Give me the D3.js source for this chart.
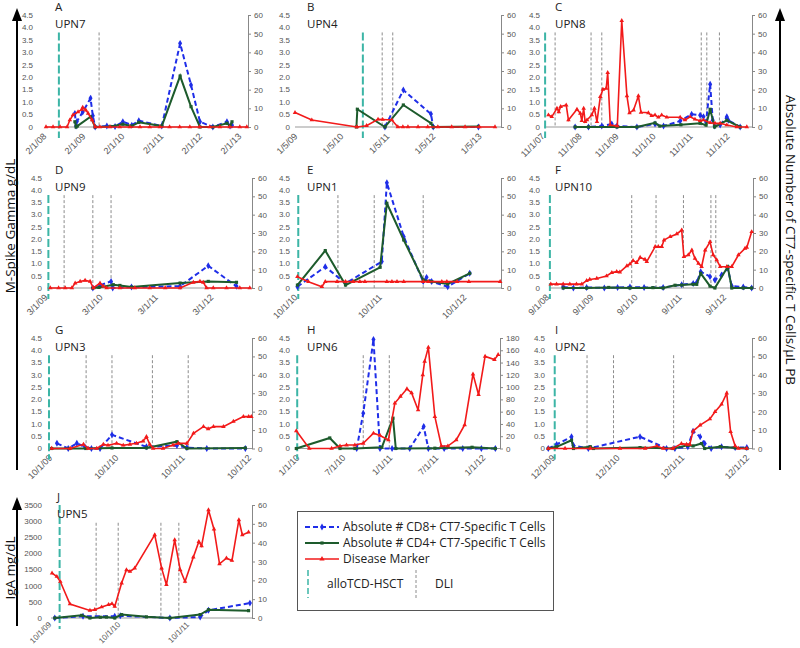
<!DOCTYPE html>
<html>
<head>
<meta charset="utf-8">
<script src="https://cdn.jsdelivr.net/npm/d3@7"></script>
<style>
  body { margin: 0; background: #fff; }
  svg { display: block; }
</style>
</head>
<body>
<svg id="chart" width="800" height="648"></svg>
<script>
// x values are decimal years, red = disease marker (left axis),
// cd8 / cd4 = absolute # CT7-specific T cells (right axis)

const A_ticks = ["2/1/08", "2/1/09", "2/1/10", "2/1/11", "2/1/12", "2/1/13"];
const A_red = [[2008.06,0],[2008.24,0],[2008.42,0],[2008.6,0],[2008.67,0.28],[2008.75,0.48],[2008.88,0.61],[2008.98,0.71],[2009.0,0.79],[2009.08,0.68],[2009.14,0.55],[2009.24,0.28],[2009.32,0],[2009.44,0],[2009.7,0],[2009.95,0],[2010.21,0],[2010.47,0],[2010.72,0],[2010.98,0],[2011.23,0],[2011.49,0],[2011.75,0],[2012.0,0],[2012.26,0],[2012.52,0],[2012.77,0],[2013.03,0],[2013.21,0]];
const A_cd8 = [[2008.8,7.3],[2008.83,0.5],[2008.85,3],[2009.0,8],[2009.2,15.4],[2009.26,6],[2009.32,0],[2009.62,0.5],[2009.83,0.3],[2010.03,2.8],[2010.26,1],[2010.44,3.4],[2011.03,0.5],[2011.5,44.8],[2011.78,22.5],[2012.01,2.8],[2012.34,0],[2012.7,2.8],[2012.78,0.5],[2012.83,1]];
const A_cd4 = [[2008.8,2.8],[2008.83,0],[2008.86,0.5],[2009.2,5.5],[2009.32,0],[2009.7,0.3],[2010.03,1.5],[2010.26,0.5],[2010.44,2.5],[2011.03,0.5],[2011.5,27.3],[2011.78,10.9],[2012.01,0],[2012.34,0],[2012.7,2],[2012.78,0.5],[2012.83,2.8]];
const A_hsct = [2008.39];
const A_dli = [2009.42];

const B_ticks = ["1/5/09", "1/5/10", "1/5/11", "1/5/12", "1/5/13"];
const B_red = [[2008.945,0.58],[2009.31,0.28],[2010.29,0],[2010.5,0.05],[2010.75,0.31],[2010.85,0.3],[2011.05,0.28],[2011.18,0],[2011.29,0],[2011.4,0],[2011.62,0],[2011.83,0],[2012.05,0],[2012.35,0],[2012.64,0],[2012.95,0],[2013.29,0]];
const B_cd8 = [[2010.9,0],[2011.3,19.8],[2011.9,7],[2011.95,0],[2012.93,0]];
const B_cd4 = [[2010.28,0],[2010.3,9.5],[2010.9,0],[2011.3,11.8],[2011.9,2],[2011.95,0],[2012.93,0.3]];
const B_hsct = [2010.42];
const B_dli = [2010.84, 2011.07];

const C_ticks = ["11/1/07", "11/1/08", "11/1/09", "11/1/10", "11/1/11", "11/1/12"];
const C_red = [[2007.92,0.48],[2008.01,0.41],[2008.15,0.75],[2008.2,0.61],[2008.25,0.82],[2008.4,0.88],[2008.46,0.28],[2008.69,0.71],[2008.78,0.55],[2008.82,0.25],[2008.87,0.75],[2008.91,0.21],[2008.96,0.28],[2009.09,0.48],[2009.16,0.75],[2009.23,0.21],[2009.32,1.22],[2009.39,1.51],[2009.48,1.55],[2009.52,2.18],[2009.59,0.08],[2009.78,0.04],[2009.9,4.27],[2010.04,1.25],[2010.11,0.57],[2010.22,0.68],[2010.35,1.25],[2010.42,0.59],[2010.62,0.57],[2010.71,0.45],[2010.8,0.48],[2010.89,0.39],[2010.98,0.48],[2011.12,0.39],[2011.48,0.39],[2011.61,0.28],[2011.75,0.41],[2011.88,0.31],[2012.02,0.25],[2012.11,0.28],[2012.29,0.17],[2012.42,0.15],[2012.56,0.15],[2012.74,0.08],[2013.01,0],[2013.28,0]];
const C_cd8 = [[2008.64,0],[2009.0,0],[2009.36,0.5],[2009.63,1.6],[2009.77,0.5],[2010.31,0],[2010.8,1.6],[2011.03,0.5],[2011.48,3.2],[2011.79,6.8],[2012.02,6.3],[2012.11,5.5],[2012.18,2.7],[2012.29,22.9],[2012.36,3.6],[2012.41,0.5],[2012.56,1.1],[2012.74,5.5],[2012.78,3.6],[2013.1,0]];
const C_cd4 = [[2008.64,0],[2009.0,0],[2009.77,0],[2010.31,0],[2010.8,2.2],[2010.93,0.5],[2011.5,1.2],[2012.02,2],[2012.18,1],[2012.29,9.5],[2012.41,0],[2012.74,3.6],[2013.1,0]];
const C_hsct = [2007.83];
const C_dli = [2008.1, 2009.07, 2009.36, 2012.05, 2012.2, 2012.54];

const D_ticks = ["3/1/09", "3/1/10", "3/1/11", "3/1/12"];
const D_red = [[2009.2,0],[2009.35,0],[2009.47,0],[2009.59,0],[2009.65,0.2],[2009.74,0.27],[2009.83,0.31],[2009.92,0.27],[2009.98,0],[2010.1,0.2],[2010.16,0.07],[2010.22,0],[2010.46,0],[2010.73,0],[2011.0,0],[2011.28,0],[2011.55,0],[2011.79,0.23],[2011.91,0.27],[2011.97,0.23],[2012.03,0],[2012.15,0],[2012.39,0],[2012.63,0],[2012.81,0]];
const D_cd8 = [[2009.97,0],[2010.1,1.5],[2010.3,3.6],[2010.33,0],[2010.67,0.5],[2011.55,1],[2012.06,12.1],[2012.57,0.9]];
const D_cd4 = [[2009.97,0],[2010.08,0.3],[2010.34,1.8],[2010.46,1.4],[2010.67,0.5],[2011.55,2.7],[2012.06,3.6],[2012.57,3.1]];
const D_hsct = [2009.165];
const D_dli = [2009.45, 2009.97, 2010.3];

const E_ticks = ["10/1/10", "10/1/11", "10/1/12"];
const E_red = [[2010.74,0.46],[2010.87,0.26],[2011.03,0.05],[2011.07,0.26],[2011.21,0.26],[2011.31,0.26],[2011.4,0.26],[2011.48,0.26],[2011.54,0.26],[2011.8,0.26],[2011.86,0.26],[2011.92,0.26],[2012.0,0.26],[2012.23,0.26],[2012.29,0.26],[2012.45,0.26],[2012.51,0.26],[2012.63,0.26],[2012.77,0.26],[2013.14,0.26]];
const E_cd8 = [[2010.74,0.7],[2011.07,11.6],[2011.31,2.5],[2011.74,14.4],[2011.8,57.4],[2012.0,28],[2012.23,3.5],[2012.27,5.8],[2012.33,3.5],[2012.52,0.7],[2012.78,8]];
const E_cd4 = [[2010.74,1.6],[2011.07,20.4],[2011.31,1.6],[2011.72,11.3],[2011.8,46.2],[2012.0,26.2],[2012.23,4.4],[2012.33,3.5],[2012.52,2.2],[2012.78,8]];
const E_hsct = [2010.75];
const E_dli = [2011.22, 2011.65, 2012.23];

const F_ticks = ["9/1/08", "9/1/09", "9/1/10", "9/1/11", "9/1/12"];
const F_red = [[2008.69,0.16],[2008.82,0.16],[2008.97,0.16],[2009.12,0.16],[2009.27,0.16],[2009.39,0.16],[2009.5,0.3],[2009.57,0.35],[2009.73,0.39],[2009.95,0.49],[2010.07,0.63],[2010.18,0.67],[2010.25,0.65],[2010.41,0.9],[2010.48,0.98],[2010.55,1.12],[2010.63,1.04],[2010.71,1.25],[2010.82,1.17],[2010.86,1.08],[2011.05,1.69],[2011.12,1.69],[2011.2,1.69],[2011.25,1.96],[2011.39,2.1],[2011.54,2.21],[2011.65,2.37],[2011.7,1.28],[2011.8,1.35],[2011.88,1.55],[2011.95,1.21],[2012.03,1.01],[2012.1,0.87],[2012.18,1.55],[2012.29,1.89],[2012.36,1.35],[2012.44,1.15],[2012.52,0.87],[2012.67,0.87],[2012.78,0.87],[2012.93,1.35],[2013.08,1.62],[2013.12,1.66],[2013.23,2.3]];
const F_cd8 = [[2008.97,0.5],[2009.2,0],[2009.5,0.3],[2009.9,0],[2010.2,0.3],[2010.48,0.5],[2010.8,0.3],[2011.23,0.3],[2011.65,1.8],[2011.91,2.5],[2011.99,3],[2012.08,8.9],[2012.29,6.2],[2012.4,4.4],[2012.55,7.1],[2012.69,10.7],[2012.78,1.1],[2013.04,0.5],[2013.23,0]];
const F_cd4 = [[2008.97,0],[2009.5,0],[2010.0,0.3],[2010.48,0],[2011.0,0.2],[2011.23,0],[2011.5,1.5],[2011.65,1.6],[2011.91,2],[2011.99,2],[2012.08,8],[2012.29,1],[2012.4,0],[2012.69,11.6],[2012.78,0],[2013.04,0],[2013.23,0]];
const F_hsct = [2008.67];
const F_dli = [2010.52, 2011.07, 2011.69, 2012.31, 2012.42];

const G_ticks = ["10/1/09", "10/1/10", "10/1/11", "10/1/12"];
const G_red = [[2009.73,0],[2010.01,0],[2010.21,0.17],[2010.28,0],[2010.41,0],[2010.51,0.17],[2010.58,0.13],[2010.71,0.21],[2010.81,0.13],[2010.91,0.17],[2011.01,0.21],[2011.11,0.3],[2011.16,0.48],[2011.21,0.17],[2011.26,0],[2011.41,0],[2011.56,0.14],[2011.64,0.21],[2011.77,0.21],[2011.87,0.62],[2012.02,0.89],[2012.09,0.8],[2012.17,0.89],[2012.32,0.89],[2012.47,1.1],[2012.62,1.3],[2012.7,1.3],[2012.74,1.3]];
const G_cd8 = [[2009.81,2.8],[2009.98,0],[2010.11,2.8],[2010.23,0.9],[2010.33,0],[2010.46,0],[2010.64,7.4],[2011.16,0.9],[2011.62,1.6],[2011.77,0.5],[2012.07,0],[2012.65,0]];
const G_cd4 = [[2009.73,0],[2010.0,0],[2010.25,0],[2010.64,0.3],[2011.16,0.3],[2011.62,3.7],[2011.77,0],[2012.65,0.3]];
const G_hsct = [2009.69];
const G_dli = [2010.25, 2010.64, 2011.25, 2011.79];

const H_ticks = ["1/1/10", "7/1/10", "1/1/11", "7/1/11", "1/1/12"];
const H_red = [[2009.96,0.72],[2010.1,0],[2010.34,0],[2010.43,0.1],[2010.5,0.14],[2010.59,0.14],[2010.68,0.21],[2010.79,0.62],[2010.86,0.53],[2010.95,0.35],[2011.02,1.85],[2011.08,2.12],[2011.15,2.43],[2011.2,2.26],[2011.27,1.57],[2011.32,3.0],[2011.34,3.55],[2011.38,4.12],[2011.45,1.3],[2011.52,0.1],[2011.59,0.1],[2011.68,0.35],[2011.77,0.96],[2011.86,3.03],[2011.92,2.19],[2011.99,3.75],[2012.09,3.62],[2012.13,3.82]];
const H_cd8 = [[2010.61,0],[2010.68,57.6],[2010.79,177.5],[2010.86,0],[2010.99,0],[2011.18,0],[2011.33,35.7],[2011.38,0],[2011.55,0],[2011.75,0],[2011.95,0],[2012.1,0]];
const H_cd4 = [[2009.96,0],[2010.32,17.2],[2010.43,0],[2010.59,0],[2010.88,2],[2011.0,49.4],[2011.03,0],[2011.45,0.5],[2011.85,2],[2012.1,0]];
const H_hsct = [2009.97];
const H_dli = [2010.68, 2010.96];

const I_ticks = ["12/1/09", "12/1/10", "12/1/11", "12/1/12"];
const I_red = [[2009.8,0],[2010.06,0],[2010.45,0],[2010.91,0],[2011.3,0],[2011.48,0.1],[2011.58,0],[2011.73,0],[2011.86,0.2],[2011.94,0.17],[2011.99,0.17],[2012.04,0.71],[2012.15,0.95],[2012.3,1.2],[2012.38,1.5],[2012.48,1.8],[2012.56,2.25],[2012.62,0.68],[2012.69,0.1],[2012.74,0],[2012.87,0]];
const I_cd8 = [[2009.8,0],[2009.93,2.2],[2010.16,6.4],[2010.19,1.6],[2010.42,0],[2011.22,6.4],[2011.63,0],[2011.76,0],[2011.96,0.9],[2012.04,9.4],[2012.15,6.4],[2012.22,2.7],[2012.32,0],[2012.48,0.9],[2012.69,0.5],[2012.87,0.5]];
const I_cd4 = [[2009.8,0],[2009.93,0.9],[2010.16,4.5],[2010.19,0],[2010.45,1],[2010.5,0],[2011.22,0.5],[2011.73,0],[2011.96,1.8],[2012.04,1.4],[2012.17,2.7],[2012.22,0],[2012.46,1],[2012.69,0.4],[2012.87,0]];
const I_hsct = [2009.9];
const I_dli = [2010.4, 2010.81, 2011.74];

const J_ticks = ["10/1/09", "10/1/10", "10/1/11"];
const J_red = [[2009.75,1390],[2009.82,1285],[2009.87,1130],[2010.01,432],[2010.3,235],[2010.37,256],[2010.47,340],[2010.57,411],[2010.62,441],[2010.66,358],[2010.76,1081],[2010.83,1492],[2010.88,1440],[2010.95,1545],[2011.24,2573],[2011.34,1545],[2011.41,1029],[2011.53,2419],[2011.61,1492],[2011.68,1130],[2011.8,1884],[2011.88,2366],[2011.92,2234],[2012.02,3346],[2012.1,2749],[2012.18,1677],[2012.28,1853],[2012.36,1780],[2012.46,3037],[2012.51,2573],[2012.6,2657]];
const J_cd8 = [[2009.79,0],[2010.2,0.9],[2010.66,0.9],[2010.74,1.2],[2011.46,0],[2011.9,0.5],[2012.02,4.1],[2012.62,7.9]];
const J_cd4 = [[2009.79,0],[2010.18,1.4],[2010.3,0],[2010.45,0.4],[2010.54,0.5],[2010.66,0],[2010.76,1.8],[2011.12,0.6],[2011.46,0],[2011.9,1.8],[2012.02,4.4],[2012.6,3.9]];
const J_hsct = [2009.86];
const J_dli = [2010.39, 2010.71, 2011.33, 2011.59];

const legendLabels = ["Absolute # CD8+ CT7-Specific T Cells", "Absolute # CD4+ CT7-Specific T Cells", "Disease Marker"];

// panel layout (pixels) and axis settings
const panels = [
  {id: "A", upn: "UPN7",  x0: 46,  x1: 248, y0: 15,  y1: 127,   dom: [2008.06, 2013.24], lx: 33,  tx: 55,  ticks: A_ticks, red: A_red, cd8: A_cd8, cd4: A_cd4, hsct: A_hsct, dli: A_dli},
  {id: "B", upn: "UPN4",  x0: 295, x1: 501, y0: 15,  y1: 127,   dom: [2008.945, 2013.42], lx: 290, tx: 307, ticks: B_ticks, red: B_red, cd8: B_cd8, cd4: B_cd4, hsct: B_hsct, dli: B_dli},
  {id: "C", upn: "UPN8",  x0: 544, x1: 752, y0: 15,  y1: 127,   dom: [2007.80, 2013.42], lx: 540, tx: 555, ticks: C_ticks, red: C_red, cd8: C_cd8, cd4: C_cd4, hsct: C_hsct, dli: C_dli},
  {id: "D", upn: "UPN9",  x0: 47,  x1: 252, y0: 178, y1: 288,   dom: [2009.14, 2012.85], lx: 42,  tx: 55,  ticks: D_ticks, red: D_red, cd8: D_cd8, cd4: D_cd4, hsct: D_hsct, dli: D_dli},
  {id: "E", upn: "UPN1",  x0: 297, x1: 501, y0: 178, y1: 288,   dom: [2010.735, 2013.15], lx: 290, tx: 307, ticks: E_ticks, red: E_red, cd8: E_cd8, cd4: E_cd4, hsct: E_hsct, dli: E_dli},
  {id: "F", upn: "UPN10", x0: 549, x1: 753, y0: 178, y1: 288,   dom: [2008.65, 2013.26], lx: 540, tx: 555, ticks: F_ticks, red: F_red, cd8: F_cd8, cd4: F_cd4, hsct: F_hsct, dli: F_dli},
  {id: "G", upn: "UPN3",  x0: 48,  x1: 252, y0: 338, y1: 448.5, dom: [2009.675, 2012.75], lx: 42, tx: 55, ticks: G_ticks, red: G_red, cd8: G_cd8, cd4: G_cd4, hsct: G_hsct, dli: G_dli},
  {id: "H", upn: "UPN6",  x0: 296, x1: 500, y0: 338, y1: 448.5, dom: [2009.957, 2012.15], lx: 290, tx: 307, ticks: H_ticks, red: H_red, cd8: H_cd8, cd4: H_cd4, hsct: H_hsct, dli: H_dli, rightMax: 180, rightStep: 20},
  {id: "I", upn: "UPN2",  x0: 548, x1: 752, y0: 338, y1: 448.5, dom: [2009.796, 2012.95], lx: 545, tx: 555, ticks: I_ticks, red: I_red, cd8: I_cd8, cd4: I_cd4, hsct: I_hsct, dli: I_dli},
  {id: "J", upn: "UPN5",  x0: 51,  x1: 252, y0: 505, y1: 618,   dom: [2009.735, 2012.65], lx: 42,  tx: 57,  ticks: J_ticks, red: J_red, cd8: J_cd8, cd4: J_cd4, hsct: J_hsct, dli: J_dli, leftMax: 3500, leftStep: 500, hsctTop: 3500, dliTop: 2950, tickSize: 8, tickOff: 7}
];

const BLUE = "#1f2ee8", GREEN = "#1d5b2c", RED = "#f21a1a", TEAL = "#3cb5a6", GREY = "#8c8c8c";
const tickFont = "Liberation Sans, Arial, sans-serif";
const labelFont = "Open Sans, Noto Sans, sans-serif";

const toDate = y => {
  const yr = Math.floor(y), a = new Date(yr, 0, 1), b = new Date(yr + 1, 0, 1);
  return new Date(+a + (y - yr) * (b - a));
};
const parseTick = d3.timeParse("%m/%d/%y");

const svg = d3.select("#chart");
svg.append("rect").attr("width", 800).attr("height", 648).attr("fill", "#fff");

panels.forEach(p => {
  const leftMax = p.leftMax || 4.5, leftStep = p.leftStep || 0.5;
  const rightMax = p.rightMax || 60, rightStep = p.rightStep || 10;
  const x = d3.scaleTime().domain(p.dom.map(toDate)).range([p.x0, p.x1]);
  const yL = d3.scaleLinear().domain([0, leftMax]).range([p.y1, p.y0]);
  const yR = d3.scaleLinear().domain([0, rightMax]).range([p.y1, p.y0]);
  const g = svg.append("g").attr("class", "panel-" + p.id);

  // left tick labels (no axis line)
  const leftTicks = d3.range(0, leftMax + 1e-9, leftStep);
  g.append("g").selectAll("text").data(leftTicks).join("text")
    .attr("x", p.lx).attr("y", d => yL(d)).attr("dy", "0.35em")
    .attr("text-anchor", "end")
    .attr("font-family", tickFont).attr("font-size", 8).attr("fill", "#555")
    .text(d => leftMax > 100 ? d : (d === 0 ? "0" : d.toFixed(1)));

  // right axis
  const ra = g.append("g").attr("transform", `translate(${p.x1},0)`)
    .call(d3.axisRight(yR).tickValues(d3.range(0, rightMax + 1e-9, rightStep))
      .tickSize(3).tickSizeOuter(0).tickPadding(3).tickFormat(d3.format("d")));
  ra.select(".domain").attr("stroke", "#888");
  ra.selectAll(".tick line").attr("stroke", "#888");
  ra.selectAll(".tick text").attr("font-family", tickFont).attr("font-size", 8).attr("fill", "#555");

  // baseline
  g.append("line").attr("x1", p.x0).attr("x2", p.x1).attr("y1", p.y1).attr("y2", p.y1)
    .attr("stroke", "#999").attr("stroke-width", 1);

  // x tick labels rotated
  g.append("g").selectAll("text").data(p.ticks).join("text")
    .attr("transform", d => `translate(${x(parseTick(d))},${p.y1 + (p.tickOff || 10)}) rotate(-45)`)
    .attr("text-anchor", "end")
    .attr("font-family", tickFont).attr("font-size", p.tickSize || 9).attr("fill", "#555")
    .text(d => d);

  // DLI and transplant markers
  g.append("g").selectAll("line").data(p.dli).join("line")
    .attr("x1", d => x(toDate(d))).attr("x2", d => x(toDate(d)))
    .attr("y1", yL(p.dliTop || 3.8)).attr("y2", p.y1)
    .attr("stroke", GREY).attr("stroke-width", 1).attr("stroke-dasharray", "3,2");
  g.append("g").selectAll("line").data(p.hsct).join("line")
    .attr("x1", d => x(toDate(d))).attr("x2", d => x(toDate(d)))
    .attr("y1", yL(p.hsctTop || 3.8)).attr("y2", p.y1 + 11)
    .attr("stroke", TEAL).attr("stroke-width", 2).attr("stroke-dasharray", "8,3");

  const lineR = d3.line().x(d => x(toDate(d[0]))).y(d => yR(d[1]));
  const lineL = d3.line().x(d => x(toDate(d[0]))).y(d => yL(d[1]));

  // CD8 (blue dashed)
  g.append("path").datum(p.cd8).attr("d", lineR).attr("fill", "none")
    .attr("stroke", BLUE).attr("stroke-width", 2).attr("stroke-dasharray", "5,3");
  g.append("g").selectAll("path").data(p.cd8).join("path")
    .attr("transform", d => `translate(${x(toDate(d[0]))},${yR(d[1])})`)
    .attr("d", d3.symbol(d3.symbolDiamond, 14)).attr("fill", BLUE);

  // CD4 (green)
  g.append("path").datum(p.cd4).attr("d", lineR).attr("fill", "none")
    .attr("stroke", GREEN).attr("stroke-width", 2);
  g.append("g").selectAll("path").data(p.cd4).join("path")
    .attr("transform", d => `translate(${x(toDate(d[0]))},${yR(d[1])})`)
    .attr("d", d3.symbol(d3.symbolSquare, 10)).attr("fill", GREEN);

  // disease marker (red)
  g.append("path").datum(p.red).attr("d", lineL).attr("fill", "none")
    .attr("stroke", RED).attr("stroke-width", 1.6);
  g.append("g").selectAll("path").data(p.red).join("path")
    .attr("transform", d => `translate(${x(toDate(d[0]))},${yL(d[1])})`)
    .attr("d", d3.symbol(d3.symbolTriangle, 9)).attr("fill", RED);

  // panel letter and patient id
  g.append("text").attr("x", p.tx).attr("y", p.y0 - 4)
    .attr("font-family", labelFont).attr("font-size", 11.5).attr("fill", "#222").text(p.id);
  g.append("text").attr("x", p.tx).attr("y", p.y0 + 13)
    .attr("font-family", labelFont).attr("font-size", 11.5).attr("fill", "#222").text(p.upn);
});

// big arrows and axis titles
function arrow(xp, yTop, yBottom) {
  svg.append("line").attr("x1", xp).attr("x2", xp).attr("y1", yTop + 10).attr("y2", yBottom)
    .attr("stroke", "#000").attr("stroke-width", 2);
  svg.append("path")
    .attr("d", `M${xp},${yTop} L${xp - 5},${yTop + 13} L${xp + 5},${yTop + 13} Z`)
    .attr("fill", "#000");
}
arrow(17, 8, 470);
arrow(780, 8, 470);
arrow(17, 497, 626);

svg.append("text").attr("transform", "translate(14.5,226) rotate(-90)")
  .attr("text-anchor", "middle").attr("font-family", labelFont).attr("font-size", 13.5)
  .attr("fill", "#111").text("M-Spike Gamma g/dL");
svg.append("text").attr("transform", "translate(785.5,240) rotate(90)")
  .attr("text-anchor", "middle").attr("font-family", labelFont).attr("font-size", 13.5)
  .attr("fill", "#111").text("Absolute Number of CT7-specific T Cells/µL PB");
svg.append("text").attr("transform", "translate(14.5,568) rotate(-90)")
  .attr("text-anchor", "middle").attr("font-family", labelFont).attr("font-size", 13.5)
  .attr("fill", "#111").text("IgA mg/dL");

// legend
const lg = svg.append("g").attr("class", "legend");
lg.append("rect").attr("x", 297.5).attr("y", 511.5).attr("width", 256).attr("height", 99)
  .attr("fill", "#fff").attr("stroke", "#555").attr("stroke-width", 1);
const legendStyles = [
  {color: BLUE, dash: "5,3", sym: d3.symbolDiamond, size: 14, w: 2},
  {color: GREEN, dash: null, sym: d3.symbolSquare, size: 10, w: 2},
  {color: RED, dash: null, sym: d3.symbolTriangle, size: 12, w: 1.6}
];
legendLabels.forEach((t, i) => {
  const yy = 527 + i * 16, s = legendStyles[i];
  lg.append("line").attr("x1", 305).attr("x2", 339).attr("y1", yy).attr("y2", yy)
    .attr("stroke", s.color).attr("stroke-width", s.w).attr("stroke-dasharray", s.dash);
  lg.append("path").attr("transform", `translate(322,${yy})`)
    .attr("d", d3.symbol(s.sym, s.size)).attr("fill", s.color);
  lg.append("text").attr("x", 343).attr("y", yy).attr("dy", "0.35em")
    .attr("font-family", labelFont).attr("font-size", 12).attr("fill", "#222").text(t);
});
lg.append("line").attr("x1", 308).attr("x2", 308).attr("y1", 570).attr("y2", 598)
  .attr("stroke", TEAL).attr("stroke-width", 1.5).attr("stroke-dasharray", "6,3");
lg.append("text").attr("x", 327).attr("y", 584).attr("dy", "0.35em")
  .attr("font-family", labelFont).attr("font-size", 12).attr("fill", "#222").text("alloTCD-HSCT");
lg.append("line").attr("x1", 416).attr("x2", 416).attr("y1", 570).attr("y2", 598)
  .attr("stroke", GREY).attr("stroke-width", 1).attr("stroke-dasharray", "3,2");
lg.append("text").attr("x", 435).attr("y", 584).attr("dy", "0.35em")
  .attr("font-family", labelFont).attr("font-size", 12).attr("fill", "#222").text("DLI");
</script>
</body>
</html>
